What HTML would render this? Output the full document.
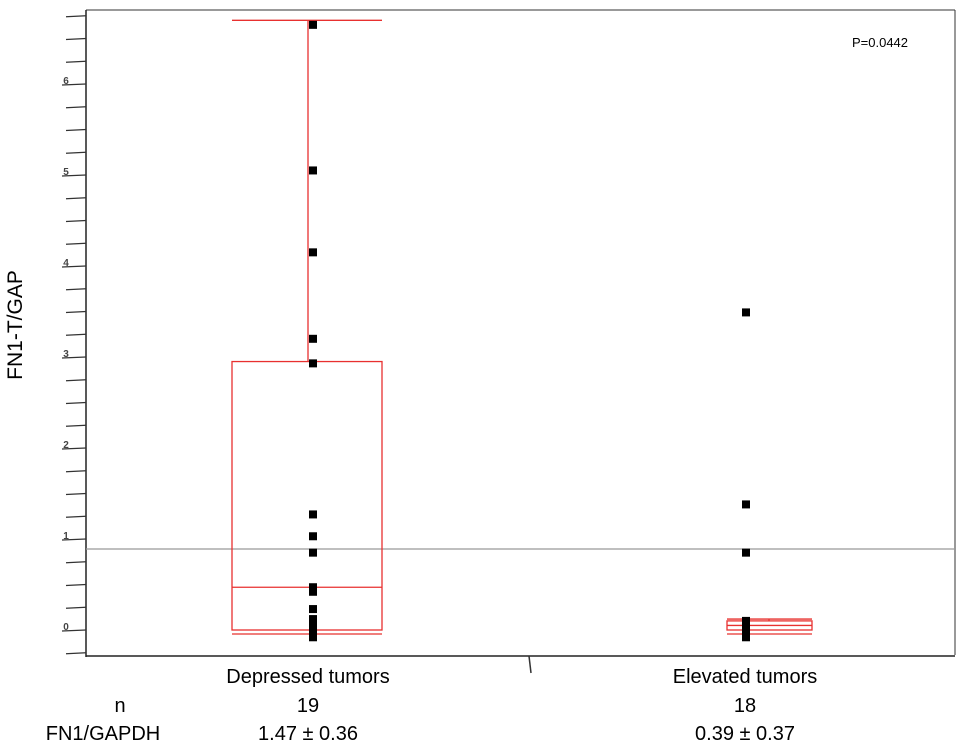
<!DOCTYPE html>
<html><head><meta charset="utf-8"><style>
body{margin:0;background:#fff;}
svg text{font-family:"Liberation Sans",sans-serif;}
</style></head><body>
<svg width="969" height="751" viewBox="0 0 969 751" id="chart">
<rect x="0" y="0" width="969" height="751" fill="#fff"/>
<line x1="86" y1="10" x2="955" y2="10" stroke="#333" stroke-width="1"/>
<line x1="955" y1="10" x2="955" y2="655" stroke="#333" stroke-width="1"/>
<line x1="86" y1="10" x2="86" y2="657" stroke="#222" stroke-width="1.5"/>
<line x1="86" y1="656" x2="955" y2="656" stroke="#222" stroke-width="1.5"/>
<line x1="529" y1="656" x2="531" y2="673" stroke="#333" stroke-width="1.5"/>
<text x="22" y="325" font-size="21" text-anchor="middle" transform="rotate(-90 22 325)">FN1-T/GAP</text>
<text x="880" y="47" font-size="13" text-anchor="middle">P=0.0442</text>
<g id="ticks"></g>
<g id="marks"></g>
<text x="308" y="683" font-size="20" text-anchor="middle">Depressed tumors</text>
<text x="745" y="683" font-size="20" text-anchor="middle">Elevated tumors</text>
<text x="120" y="712" font-size="20" text-anchor="middle">n</text>
<text x="308" y="712" font-size="20" text-anchor="middle">19</text>
<text x="745" y="712" font-size="20" text-anchor="middle">18</text>
<text x="103" y="740" font-size="20" text-anchor="middle">FN1/GAPDH</text>
<text x="308" y="740" font-size="20" text-anchor="middle">1.47 ± 0.36</text>
<text x="745" y="740" font-size="20" text-anchor="middle">0.39 ± 0.37</text>
</svg>
<script>
const tickLabels=[0,1,2,3,4,5,6];
const categories=["Depressed tumors","Elevated tumors"];
const depressedPoints=[6.65,5.05,4.15,3.2,2.93,1.27,1.03,0.85,0.47,0.42,0.23,0.12,0.07,0.02,-0.03,-0.08];
const elevatedPoints=[3.49,1.38,0.85,0.1,0.05,0.0,-0.05,-0.08];
const boxWhiskerTop=[6.7,0.12];
const boxQ3=[2.95,0.1];
const boxMedian=[0.47,0.05];
const boxQ1=[0.0,0.0];
const refLine=0.89;
const NS="http://www.w3.org/2000/svg";
function y(v){return 630-v*91;}
const boxX0=[232,727], boxX1=[382,812], whiskX=[308,769], ptx=[313,746];
function mk(tag,attrs,parent){const e=document.createElementNS(NS,tag);for(const k in attrs)e.setAttribute(k,attrs[k]);parent.appendChild(e);return e;}
const tg=document.getElementById('ticks'), mg=document.getElementById('marks');
for(let v=-0.25;v<=6.76;v+=0.25){
  const major=Math.abs(v-Math.round(v))<1e-6;
  const t=mk('line',{x1:major?62:66,y1:y(v)+1,x2:86,y2:y(v),stroke:'#333','stroke-width':1.3},tg);
  
  
}
tickLabels.forEach(v=>{
  const t=mk('text',{x:66,y:y(v),'font-size':10,'font-weight':'bold','text-anchor':'middle',fill:'#444'},tg);
  t.textContent=v;
  
  
});
const rl=mk('line',{x1:86,y1:y(refLine),x2:955,y2:y(refLine),stroke:'#999','stroke-width':1.3},mg);


const red='#e8302f';
categories.forEach((c,i)=>{
  const x0=boxX0[i], x1=boxX1[i];
  const b=mk('rect',{x:x0,y:y(boxQ3[i]),width:x1-x0,height:y(boxQ1[i])-y(boxQ3[i]),fill:'none',stroke:red,'stroke-width':1.3},mg);
  
  
  const b2=mk('line',{x1:x0,y1:y(boxQ1[i])+4,x2:x1,y2:y(boxQ1[i])+4,stroke:red,'stroke-width':1.3},mg);
  
  
  const md=mk('line',{x1:x0,y1:y(boxMedian[i]),x2:x1,y2:y(boxMedian[i]),stroke:red,'stroke-width':1.3},mg);
  
  
  if(boxWhiskerTop[i]>boxQ3[i]){
    const w=mk('line',{x1:whiskX[i],y1:y(boxQ3[i]),x2:whiskX[i],y2:y(boxWhiskerTop[i]),stroke:red,'stroke-width':1.3},mg);
    
    
    const cap=mk('line',{x1:x0,y1:y(boxWhiskerTop[i]),x2:x1,y2:y(boxWhiskerTop[i]),stroke:red,'stroke-width':1.3},mg);
    
    
  }
});
[depressedPoints,elevatedPoints].forEach((arr,i)=>{
  arr.forEach(v=>{
    const p=mk('rect',{x:ptx[i]-4,y:y(v)-4,width:8,height:8,fill:'#000'},mg);
    
    
  });
});
</script>
</body></html>
